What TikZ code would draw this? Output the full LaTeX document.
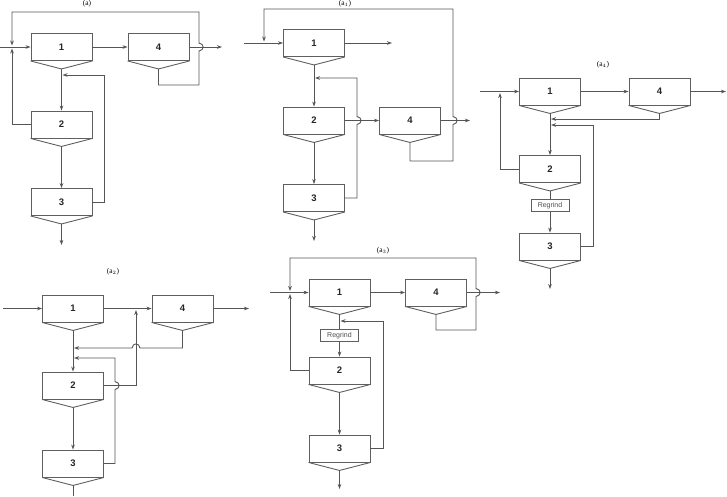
\documentclass[tikz,border=0pt]{standalone}
\usepackage{fontspec}
\setmainfont{Liberation Serif}
\setsansfont{Liberation Sans}
\usetikzlibrary{arrows.meta}
\definecolor{lc}{RGB}{85,85,85}
\definecolor{bc}{RGB}{95,95,95}
\tikzset{
 cell/.style={draw=bc, line width=0.9pt, minimum width=61pt, minimum height=27pt, inner sep=0pt, font=\sffamily\bfseries\fontsize{9.5}{11}\selectfont, text=black!85},
 vee/.style={draw=bc, line width=0.9pt},
 ln/.style={draw=lc, line width=0.9pt},
 arr/.style={ln, -{Stealth[length=5pt,width=3.6pt]}},
 rg/.style={draw=bc, line width=0.6pt, minimum width=38pt, minimum height=12pt, inner sep=0pt, font=\sffamily\fontsize{7}{8}\selectfont, text=black!70},
 lab/.style={font=\fontsize{7.5}{9}\selectfont, inner sep=0pt}
}
\newcommand\mkcell[4]{\node[cell] (#1) at (#2,#3) {#4};
 \coordinate (#1t) at ([yshift=-8pt]#1.south);
 \draw[vee] (#1.south west) -- (#1t) -- (#1.south east);}
\begin{document}
\begin{tikzpicture}[x=1pt,y=-1pt]
\useasboundingbox (0,0) rectangle (727,496);
% ---------------- (a)
\mkcell{A1}{61.5}{47}{1}
\mkcell{A4}{158.5}{47}{4}
\mkcell{A2}{61.5}{124.5}{2}
\mkcell{A3}{61.5}{202}{3}
\node[lab, anchor=north] (La) at (87,0.5) {(a)};
\coordinate (Ain) at (0,47);
\coordinate (Aout) at (222,47);
\coordinate (Aend) at (61.5,245);
\draw[arr] (Ain) -- (A1.west);
\draw[arr] (A1.east) -- (A4.west);
\draw[arr] (A4.east) -- (Aout);
\draw[arr] (A4t) |- (199,85) -- (199,51) .. controls (204.5,50) and (204.5,44) .. (199,43) -- (199,12) -| (12,45.5);
\draw[arr] (A2.west) -| (12,48.5);
\draw[arr] (A1t) -- (A2.north);
\draw[arr] (A2t) -- (A3.north);
\draw[arr] (A3t) -- (Aend);
\draw[arr] (A3.east) -| (104,75) -- (62.5,75);
% ---------------- (a1)
\mkcell{B1}{314}{43}{1}
\mkcell{B2}{314}{120.5}{2}
\mkcell{B4}{410}{120.5}{4}
\mkcell{B3}{314}{198}{3}
\node[lab, anchor=north] (Lb) at (345,0.5) {(a$_1$)};
\coordinate (Bin) at (244,43);
\coordinate (Bout1) at (392,43);
\coordinate (Bout4) at (470,120.5);
\coordinate (Bend) at (314,241);
\draw[arr] (Bin) -- (B1.west);
\draw[arr] (B1.east) -- (Bout1);
\draw[arr] (B2.east) -- (B4.west);
\draw[arr] (B4.east) -- (Bout4);
\draw[arr] (B4t) |- (453,161) -- (453,124.5) .. controls (458.5,123.5) and (458.5,117.5) .. (453,116.5) -- (453,9) -| (264,41.5);
\draw[arr] (B1t) -- (B2.north);
\draw[arr] (B2t) -- (B3.north);
\draw[arr] (B3t) -- (Bend);
\draw[arr] (B3.east) -| (357,124.5) .. controls (362.5,123.5) and (362.5,117.5) .. (357,116.5) -- (357,78) -- (315,78);
% ---------------- (a4)
\mkcell{C1}{550}{91.5}{1}
\mkcell{C4}{659.5}{91.5}{4}
\mkcell{C2}{550}{169}{2}
\mkcell{C3}{550}{246.5}{3}
\node[rg] (CR) at (550,205.5) {Regrind};
\node[lab] (Lc) at (603,65) {(a$_4$)};
\coordinate (Cin) at (480,91.5);
\coordinate (Cout) at (726,91.5);
\coordinate (Cend) at (550,289);
\draw[arr] (Cin) -- (C1.west);
\draw[arr] (C1.east) -- (C4.west);
\draw[arr] (C4.east) -- (Cout);
\draw[arr] (C4t) |- (551,119);
\draw[arr] (C2.west) -| (500,93);
\draw[arr] (C1t) -- (C2.north);
\draw[ln] (C2t) -- (CR.north);
\draw[arr] (CR.south) -- (C3.north);
\draw[arr] (C3t) -- (Cend);
\draw[arr] (C3.east) -| (593,125) -- (551,125);
% ---------------- (a2)
\mkcell{D1}{73}{308.5}{1}
\mkcell{D4}{182.5}{308.5}{4}
\mkcell{D2}{73}{385.5}{2}
\mkcell{D3}{73}{463.5}{3}
\node[lab] (Ld) at (113,272) {(a$_2$)};
\coordinate (Din) at (3,308.5);
\coordinate (Dout) at (249,308.5);
\coordinate (Dend) at (73,496);
\draw[arr] (Din) -- (D1.west);
\draw[arr] (D1.east) -- (D4.west);
\draw[arr] (D4.east) -- (Dout);
\draw[arr] (D4t) |- (140,348) .. controls (139,342.5) and (133,342.5) .. (132,348) -- (74,348);
\draw[arr] (D2.east) -| (136,310);
\draw[arr] (D3.east) -| (115,389.5) .. controls (120.5,388.5) and (120.5,382.5) .. (115,381.5) -- (115,358) -- (74,358);
\draw[arr] (D1t) -- (D2.north);
\draw[arr] (D2t) -- (D3.north);
\draw[ln] (D3t) -- (Dend);
% ---------------- (a3)
\mkcell{E1}{339.5}{292.5}{1}
\mkcell{E4}{436}{292.5}{4}
\mkcell{E2}{339.5}{370.5}{2}
\mkcell{E3}{339.5}{448.5}{3}
\node[rg] (ER) at (339.5,335.5) {Regrind};
\node[lab] (Le) at (383,251) {(a$_3$)};
\coordinate (Ein) at (270,292.5);
\coordinate (Eout) at (500,292.5);
\coordinate (Eend) at (339.5,489);
\draw[arr] (Ein) -- (E1.west);
\draw[arr] (E1.east) -- (E4.west);
\draw[arr] (E4.east) -- (Eout);
\draw[arr] (E4t) |- (476,330) -- (476,296.5) .. controls (481.5,295.5) and (481.5,289.5) .. (476,288.5) -- (476,258) -| (290,291);
\draw[arr] (E2.west) -| (290,294);
\draw[ln] (E1t) -- (ER.north);
\draw[arr] (ER.south) -- (E2.north);
\draw[arr] (E2t) -- (E3.north);
\draw[arr] (E3t) -- (Eend);
\draw[arr] (E3.east) -| (383,321) -- (340.5,321);
\end{tikzpicture}
\end{document}
